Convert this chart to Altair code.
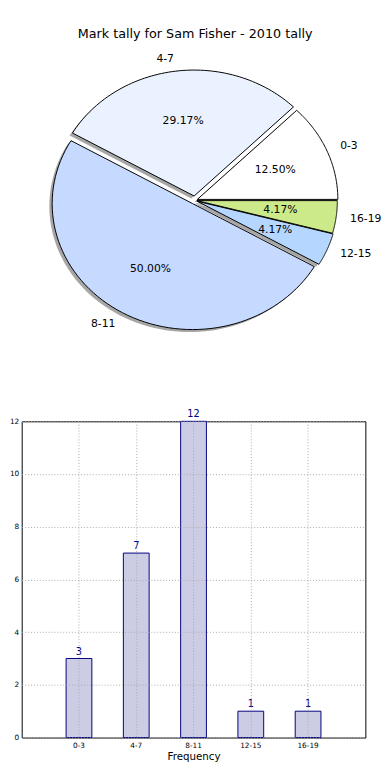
import altair as alt
import pandas as pd

# ---- data ----
labels = ["0-3", "4-7", "8-11", "12-15", "16-19"]
counts = [3, 7, 12, 1, 1]
slice_colors = ["#FFFFFF", "#EBF2FF", "#C6D9FF", "#B5D6FF", "#CDEA8A"]
explode = [0.02, 0.035, 0.03, 0.02, 0.015]
y_ticks = [0, 2, 4, 6, 8, 10, 12]
title_text = "Mark tally for Sam Fisher - 2010 tally"
x_title = "Frequency"

FONT = "DejaVu Sans"
NSEG = 72

df = pd.DataFrame({
    "idx": list(range(len(labels))),
    "label": labels,
    "count": counts,
    "color": slice_colors,
    "explode": explode,
})

# pie geometry (layout): unit circle mapped to an ellipse by the x/y scales
PIE_W, PIE_H = 350, 324
X_DOM = [-1.2317, 1.2073]
Y_DOM = [-1.327, 1.192]

base = (
    alt.Chart(df)
    .transform_window(cum="sum(count)", sort=[alt.SortField("idx")], frame=[None, 0])
    .transform_joinaggregate(total="sum(count)")
    .transform_calculate(
        a0="2*PI*(datum.cum-datum.count)/datum.total",
        a1="2*PI*datum.cum/datum.total",
    )
    .transform_calculate(mid="(datum.a0+datum.a1)/2")
    .transform_calculate(
        cx="datum.explode*cos(datum.mid)",
        cy="datum.explode*sin(datum.mid)",
    )
)

xs = alt.Scale(domain=X_DOM, nice=False, zero=False)
ys = alt.Scale(domain=Y_DOM, nice=False, zero=False)

poly = (
    base.transform_calculate(k=f"sequence(0,{NSEG + 3})")
    .transform_flatten(["k"])
    .transform_calculate(t=f"clamp(datum.k-1,0,{NSEG})/{NSEG}")
    .transform_calculate(
        ang="datum.a0+(datum.a1-datum.a0)*datum.t",
        apex=f"datum.k==0||datum.k=={NSEG + 2}",
    )
    .transform_calculate(
        px="datum.cx+(datum.apex?0:cos(datum.ang))",
        py="datum.cy+(datum.apex?0:sin(datum.ang))",
    )
    .transform_calculate(sx="datum.px-0.02", sy="datum.py-0.02")
)

shadow = poly.mark_line(filled=True, opacity=0.5, strokeWidth=0).encode(
    x=alt.X("sx:Q", scale=xs, axis=None),
    y=alt.Y("sy:Q", scale=ys, axis=None),
    detail="label:N",
    order=alt.Order("k:Q"),
    fill=alt.value("#4d4d4d"),
)

wedges = poly.mark_line(filled=True, stroke="black", strokeWidth=1, strokeJoin="round").encode(
    x=alt.X("px:Q", scale=xs, axis=None),
    y=alt.Y("py:Q", scale=ys, axis=None),
    detail="label:N",
    order=alt.Order("k:Q"),
    fill=alt.Fill("color:N", scale=None, legend=None),
)

lab = base.transform_calculate(
    lx="datum.cx+1.1*cos(datum.mid)",
    ly="datum.cy+1.1*sin(datum.mid)",
    c="cos(datum.mid)",
)
lab_right = lab.transform_filter("datum.c>0").mark_text(
    align="left", baseline="middle", font=FONT, fontSize=11, color="black"
).encode(x=alt.X("lx:Q", scale=xs, axis=None), y=alt.Y("ly:Q", scale=ys, axis=None), text="label:N")
lab_left = lab.transform_filter("datum.c<=0").mark_text(
    align="right", baseline="middle", font=FONT, fontSize=11, color="black"
).encode(x=alt.X("lx:Q", scale=xs, axis=None), y=alt.Y("ly:Q", scale=ys, axis=None), text="label:N")

pct = base.transform_calculate(
    tx="datum.cx+0.6*cos(datum.mid)",
    ty="datum.cy+0.6*sin(datum.mid)",
    ptxt="format(100*datum.count/datum.total,'.2f')+'%'",
).mark_text(align="center", baseline="middle", font=FONT, fontSize=11, color="black").encode(
    x=alt.X("tx:Q", scale=xs, axis=None),
    y=alt.Y("ty:Q", scale=ys, axis=None),
    text="ptxt:N",
)

pie = alt.layer(shadow, wedges, lab_left, lab_right, pct).properties(
    width=PIE_W, height=PIE_H, view=alt.ViewBackground(stroke=None)
)

# ---- bar chart ----
bdf = pd.DataFrame({"label": labels, "count": counts})
bx = alt.X(
    "label:N",
    sort=labels,
    scale=alt.Scale(paddingInner=0, paddingOuter=0.5),
    axis=alt.Axis(
        title=x_title, labelAngle=0, grid=True, gridDash=[1, 2], gridColor="#aaaaaa",
        ticks=False, domain=False, labelFont=FONT, labelFontSize=7.5, labelColor="black",
        titleFont=FONT, titleFontSize=10.5, titleFontWeight="normal", titleColor="black",
        labelPadding=4, titlePadding=3, zindex=1,
    ),
)
by = alt.Y(
    "count:Q",
    scale=alt.Scale(domain=[0, 12], nice=False),
    axis=alt.Axis(
        title=None, values=y_ticks, grid=True, gridDash=[1, 2], gridColor="#aaaaaa",
        ticks=False, domain=False, labelFont=FONT, labelFontSize=7.5, labelColor="black",
        labelPadding=3, zindex=1,
    ),
)
bars = alt.Chart(bdf).mark_bar(
    width=alt.RelativeBandSize(0.45), fill="#CCCCE5", stroke="#000080", strokeWidth=1
).encode(x=bx, y=by)
btext = alt.Chart(bdf).mark_text(
    baseline="bottom", dy=-2, font=FONT, fontSize=10, color="#000080"
).encode(x=alt.X("label:N", sort=labels), y="count:Q", text="count:Q")

bar = alt.layer(bars, btext).properties(
    width=351, height=323, view=alt.ViewBackground(stroke="black", strokeWidth=1)
)

chart = alt.vconcat(pie, bar, spacing=42).properties(
    title=alt.TitleParams(
        title_text, font=FONT, fontSize=13, fontWeight="normal", anchor="middle",
        color="black", offset=10,
    ),
    padding={"left": 0, "top": 12, "right": 0, "bottom": 0},
).configure_view(strokeWidth=1)

chart.save("out.html", embed_options={"renderer": "svg", "actions": False})
